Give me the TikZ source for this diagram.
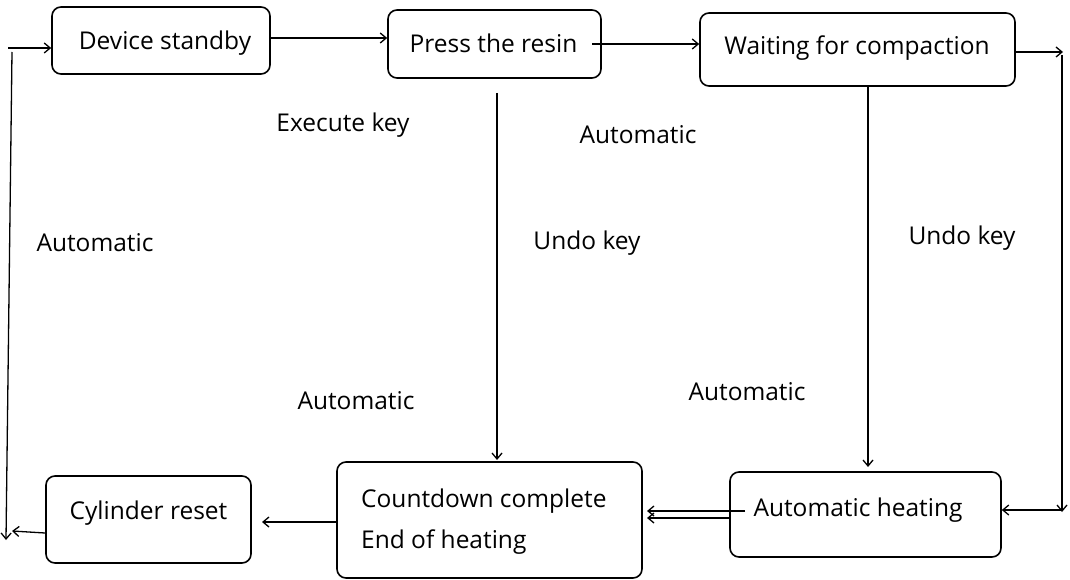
\documentclass[tikz,border=0pt]{standalone}
\usepackage{fontspec}
\setmainfont{Open Sans}
\usetikzlibrary{arrows.meta}
\begin{document}
\begin{tikzpicture}[x=1pt,y=-1pt,
  box/.style={draw,line width=1.6pt,rounded corners=9pt,inner sep=0pt},
  arr/.style={line width=1.3pt,-{Straight Barb[length=6pt,width=10pt,line width=1.3pt]}},
  lbl/.style={font=\fontsize{24.5}{29}\selectfont,inner sep=0pt},
  btxt/.style={lbl,anchor=base}]
\useasboundingbox (0,0) rectangle (1070,580);
\node[box,minimum width=218pt,minimum height=67pt] (ds) at (161,40.5) {};
\node[btxt] (dst) at (165,50) {Device standby};
\node[box,minimum width=213pt,minimum height=68pt] (pr) at (494.5,44) {};
\node[btxt] (prt) at (493.5,53) {Press the resin};
\node[box,minimum width=315pt,minimum height=73pt] (wc) at (857.5,49.5) {};
\node[btxt] (wct) at (857,55) {Waiting for compaction};
\node[box,minimum width=271pt,minimum height=85pt] (ah) at (865.5,514.5) {};
\node[btxt] (aht) at (858,516) {Automatic heating};
\node[box,minimum width=305pt,minimum height=116pt] (cc) at (489.5,520) {};
\node[btxt,anchor=base west] (cct1) at (361,507) {Countdown complete};
\node[btxt,anchor=base west] (cct2) at (361,548) {End of heating};
\node[box,minimum width=205pt,minimum height=87pt] (cr) at (148.5,519.5) {};
\node[btxt] (crt) at (148.5,519) {Cylinder reset};
% labels
\node[btxt] (l1) at (343,132) {Execute key};
\node[lbl] (l2) at (638,135) {Automatic};
\node[lbl] (l3) at (95,243) {Automatic};
\node[lbl] (l4) at (587,243) {Undo key};
\node[lbl] (l5) at (962,238) {Undo key};
\node[lbl] (l6) at (356,401) {Automatic};
\node[lbl] (l7) at (747,392) {Automatic};
% coordinates
\coordinate (lt) at (8,48);
\coordinate (lv1) at (12,52);
\coordinate (lv2) at (6,540);
\coordinate (lin) at (12,531);
\coordinate (rt) at (1063,52);
\coordinate (rv1) at (1062,55);
\coordinate (rv2) at (1062,512);
\coordinate (rin) at (1062,510);
\coordinate (pst) at (592,44);
\coordinate (ahs) at (745,511);
\coordinate (ahe) at (647,511);
\coordinate (ahe2) at (647,518);
\coordinate (prs) at (497,93);
\coordinate (pre) at (497,460);
\coordinate (wce) at (868,467);
\coordinate (cre) at (262,522);
% connectors
\draw[arr] (ds.east |- 0,38) -- (pr.west |- 0,38);
\draw[arr] (pst) -- (wc.west |- pst);
\draw[arr] (wc.east |- 0,52) -- (rt);
\draw[arr] (rv1) -- (rv2);
\draw[arr] (rin) -- (ah.east |- rin);
\draw[arr] (wc.south -| wce) -- (wce);
\draw[arr] (prs) -- (pre);
\draw[arr] (ahs) -- (ahe);
\draw[arr] (ah.west |- ahe2) -- (ahe2);
\draw[arr] (cc.west |- cre) -- (cre);
\draw[arr] (cr.west |- 0,533) -- (lin);
\draw[arr] (lv1) -- (lv2);
\draw[arr] (lt) -- (ds.west |- lt);
\end{tikzpicture}
\end{document}
